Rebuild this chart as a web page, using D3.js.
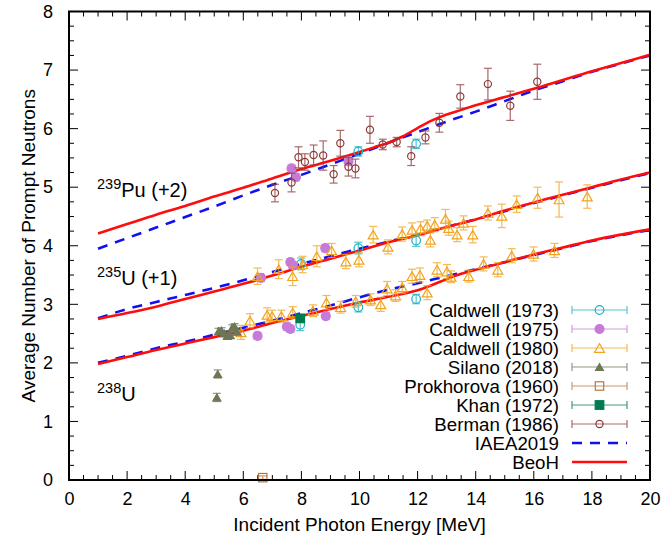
<!DOCTYPE html>
<html>
<head>
<meta charset="utf-8">
<script src="https://cdn.jsdelivr.net/npm/d3@7"></script>
<style>
  body { margin: 0; background: #fff; }
  svg text { font-family: "Liberation Sans", Arial, Helvetica, sans-serif; fill: #000; }
</style>
</head>
<body>
<div class="visHolder"></div>
<script>
// ========================================
// Dimensions
// ========================================
const
  width = 664,
  height = 542,
  plotLeft = 69, plotRight = 650,      // plot frame, px
  plotTop = 11.5, plotBottom = 480,
  tickFont = 18,
  labelFont = 19,
  legendFont = 18.7;

// ========================================
// Data (plotted values, Pu shifted +2, U235 shifted +1)
// ========================================
const xTicks = [0, 2, 4, 6, 8, 10, 12, 14, 16, 18, 20];
const yTicks = [0, 1, 2, 3, 4, 5, 6, 7, 8];

// model curves [E, nu]
const beohPu = [[1,4.21],[2,4.37],[3,4.53],[4,4.68],[5,4.84],[6,4.99],[7,5.15],[8,5.31],[9,5.45],[10,5.60],[10.5,5.68],[11,5.76],[11.5,5.87],[12,6.01],[12.5,6.14],[13,6.24],[13.5,6.32],[14,6.40],[15,6.54],[16,6.68],[17,6.83],[18,6.98],[19,7.12],[20,7.26]];
const iaeaPu = [[1,3.95],[2,4.13],[3,4.31],[4,4.49],[5,4.67],[6,4.86],[7,5.04],[8,5.21],[9,5.39],[10,5.57],[11,5.76],[12,5.94],[13,6.12],[14,6.29],[15,6.47],[16,6.65],[17,6.81],[18,6.97],[19,7.11],[20,7.25]];
const beohU5 = [[1,2.75],[2,2.85],[3,2.96],[4,3.09],[5,3.22],[6,3.35],[7,3.49],[8,3.64],[9,3.78],[10,3.92],[11,4.06],[12,4.18],[13,4.32],[14,4.45],[15,4.60],[16,4.74],[17,4.87],[18,5.00],[19,5.13],[20,5.25]];
const iaeaU5 = [[1,2.76],[2,2.92],[3,3.04],[4,3.16],[5,3.28],[6,3.41],[7,3.55],[8,3.69],[9,3.82],[10,3.95],[11,4.07],[12,4.19],[13,4.32],[14,4.45],[15,4.59],[16,4.73],[17,4.86],[18,4.99],[19,5.12],[20,5.24]];
const beohU8 = [[1,1.98],[2,2.10],[3,2.22],[4,2.33],[5,2.44],[6,2.55],[7,2.68],[8,2.80],[9,2.92],[10,3.03],[11,3.13],[12,3.24],[12.5,3.33],[13,3.43],[13.5,3.52],[14,3.59],[15,3.72],[16,3.85],[17,3.97],[18,4.09],[19,4.19],[20,4.28]];
const iaeaU8 = [[1,2.00],[2,2.12],[3,2.25],[4,2.36],[5,2.48],[6,2.60],[7,2.72],[8,2.85],[9,2.98],[10,3.12],[11,3.25],[12,3.36],[13,3.48],[14,3.60],[15,3.72],[16,3.84],[17,3.96],[18,4.08],[19,4.18],[20,4.27]];

// measurements [E, nu, error]
const caldwell1973 = [[7.99,3.69,0.1],[9.96,3.96,0.1],[11.95,4.09,0.1],[7.96,2.65,0.1],[9.96,2.95,0.08],[11.95,3.09,0.08],[9.96,5.61,0.08],[11.95,5.74,0.08]];
const caldwell1975 = [[7.66,5.32,0.06],[7.81,5.17,0.06],[9.62,5.44,0.06],[6.61,3.45,0.06],[7.62,3.72,0.06],[7.70,3.67,0.06],[8.82,3.96,0.06],[6.49,2.46,0.06],[7.50,2.62,0.06],[7.62,2.58,0.06],[8.84,2.80,0.06]];
const caldwell1980 = [
  [6.49,3.48,0.14],[7.22,3.60,0.16],[7.70,3.48,0.16],[8.04,3.68,0.14],[8.53,3.82,0.18],[9.04,3.92,0.12],[9.53,3.73,0.12],[9.98,3.76,0.12],
  [10.47,4.19,0.14],[10.98,3.98,0.12],[11.47,4.20,0.12],[11.81,4.27,0.12],[12.10,4.29,0.12],[12.33,4.34,0.10],[12.44,4.10,0.12],[12.59,4.36,0.12],
  [12.96,4.46,0.16],[13.07,4.30,0.12],[13.36,4.19,0.12],[13.58,4.39,0.12],[13.90,4.19,0.14],[14.42,4.56,0.12],[14.90,4.51,0.20],[15.41,4.71,0.14],
  [16.13,4.82,0.18],[16.87,4.79,0.30],[17.84,4.84,0.20],
  [5.92,2.52,0.12],[6.23,2.72,0.12],[6.82,2.82,0.12],[6.99,2.80,0.10],[7.31,2.80,0.10],[7.70,2.86,0.10],[8.40,2.89,0.10],[8.86,3.03,0.12],
  [9.35,2.95,0.10],[9.87,3.05,0.10],[10.38,3.08,0.10],[10.73,3.00,0.12],[10.95,3.27,0.12],[11.24,3.15,0.10],[11.47,3.29,0.10],[11.81,3.48,0.12],
  [12.08,3.50,0.12],[12.33,3.20,0.12],[12.67,3.59,0.12],[13.01,3.56,0.12],[13.15,3.47,0.10],[13.76,3.48,0.10],[14.27,3.69,0.12],[14.76,3.59,0.12],
  [15.24,3.83,0.12],[15.99,3.86,0.12],[16.71,3.92,0.12]];
const silano2018 = [[5.12,1.81,0.07],[5.09,1.41,0.07],[5.15,2.54,0.05],[5.25,2.55,0.05],[5.35,2.50,0.05],[5.45,2.46,0.05],[5.55,2.47,0.05],[5.62,2.60,0.05],[5.70,2.62,0.05],[5.78,2.53,0.05]];
const prokhorova1960 = [[6.67,0.04,0.03]];
const khan1972 = [[7.96,2.76,0.05]];
const berman1986 = [
  [7.09,4.90,0.15],[7.66,5.08,0.16],[7.90,5.51,0.18],[8.12,5.43,0.14],[8.42,5.55,0.17],[8.75,5.54,0.25],[9.11,5.22,0.15],[9.34,5.75,0.22],
  [9.62,5.35,0.16],[9.86,5.32,0.16],[10.36,5.98,0.23],[10.80,5.73,0.09],[11.28,5.77,0.08],[11.78,5.53,0.16],[12.27,5.85,0.11],[12.75,6.10,0.16],
  [13.47,6.55,0.20],[14.42,6.76,0.27],[15.19,6.39,0.25],[16.12,6.80,0.30]];

// ========================================
// Series styles
// ========================================
const expSeries = [
  {label: 'Caldwell (1973)',   data: caldwell1973,   color: '#1fb2c4', shape: 'circle',   fill: false, r: 4.3},
  {label: 'Caldwell (1975)',   data: caldwell1975,   color: '#c77ad8', shape: 'circle',   fill: true,  r: 4.5},
  {label: 'Caldwell (1980)',   data: caldwell1980,   color: '#f2a31b', shape: 'triangle', fill: false, r: 4.5},
  {label: 'Silano (2018)',     data: silano2018,     color: '#6f7656', shape: 'triangle', fill: true,  r: 3.6},
  {label: 'Prokhorova (1960)', data: prokhorova1960, color: '#b8773f', shape: 'square',   fill: false, r: 4.2},
  {label: 'Khan (1972)',       data: khan1972,       color: '#017a4f', shape: 'square',   fill: true,  r: 4.3},
  {label: 'Berman (1986)',     data: berman1986,     color: '#8c3a3a', shape: 'circle',   fill: false, r: 3.6},
];
const modelSeries = [
  {label: 'IAEA2019', curves: [iaeaPu, iaeaU5, iaeaU8], color: '#1010f0', dash: '10,8'},
  {label: 'BeoH',     curves: [beohPu, beohU5, beohU8], color: '#ff0d0d', dash: null},
];

// ========================================
// SVG + scales
// ========================================
const svg = d3.select('.visHolder')
  .append('svg')
    .attr('width', width)
    .attr('height', height);

const xScale = d3.scaleLinear().domain([0, 20]).range([plotLeft, plotRight]);
const yScale = d3.scaleLinear().domain([0, 8]).range([plotBottom, plotTop]);

// major + minor ticks inside the frame (all four sides)
const xMinor = d3.range(0, 20.01, 0.5);
const yMinor = d3.range(0, 8.01, 0.25);
const ticks = svg.append('g').attr('stroke', '#000').attr('stroke-width', 1);
xMinor.forEach(v => {
  const len = (v % 2 === 0) ? 9 : 5;
  ticks.append('line').attr('x1', xScale(v)).attr('x2', xScale(v)).attr('y1', plotBottom).attr('y2', plotBottom - len);
  ticks.append('line').attr('x1', xScale(v)).attr('x2', xScale(v)).attr('y1', plotTop).attr('y2', plotTop + len);
});
yMinor.forEach(v => {
  const len = (v % 1 === 0) ? 9 : 5;
  ticks.append('line').attr('y1', yScale(v)).attr('y2', yScale(v)).attr('x1', plotLeft).attr('x2', plotLeft + len);
  ticks.append('line').attr('y1', yScale(v)).attr('y2', yScale(v)).attr('x1', plotRight).attr('x2', plotRight - len);
});

// axes (labels only, frame drawn below)
svg.append('g')
  .attr('transform', 'translate(0,' + plotBottom + ')')
  .call(d3.axisBottom(xScale).tickValues(xTicks).tickSize(0).tickPadding(12).tickFormat(d3.format('d')))
  .call(g => g.select('.domain').remove())
  .selectAll('text')
    .style('font-size', tickFont + 'px')
    .style('font-family', '"Liberation Sans", Arial, sans-serif');

svg.append('g')
  .attr('transform', 'translate(' + plotLeft + ',0)')
  .call(d3.axisLeft(yScale).tickValues(yTicks).tickSize(0).tickPadding(16).tickFormat(d3.format('d')))
  .call(g => g.select('.domain').remove())
  .selectAll('text')
    .style('font-size', tickFont + 'px')
    .style('font-family', '"Liberation Sans", Arial, sans-serif');

// axis titles
svg.append('text')
  .attr('x', (plotLeft + plotRight) / 2)
  .attr('y', 531)
  .attr('text-anchor', 'middle')
  .style('font-size', labelFont + 'px')
  .text('Incident Photon Energy [MeV]');

svg.append('text')
  .attr('transform', 'rotate(-90)')
  .attr('x', -(plotTop + plotBottom) / 2)
  .attr('y', 35)
  .attr('text-anchor', 'middle')
  .style('font-size', labelFont + 'px')
  .text('Average Number of Prompt Neutrons');

// ========================================
// Nucleus labels
// ========================================
const nucLabels = [
  {mass: '239', sym: 'Pu (+2)', y: 197},
  {mass: '235', sym: 'U (+1)',  y: 285},
  {mass: '238', sym: 'U',       y: 401},
];
nucLabels.forEach(d => {
  const t = svg.append('text').attr('x', 97).attr('y', d.y).style('font-size', '20px');
  t.append('tspan').attr('dy', -8).style('font-size', '14.5px').text(d.mass);
  t.append('tspan').attr('dy', 8).text(d.sym);
});

// ========================================
// Model curves
// ========================================
const line = d3.line()
  .x(d => xScale(d[0]))
  .y(d => yScale(d[1]))
  .curve(d3.curveMonotoneX);

const plot = svg.append('g');
modelSeries.forEach(s => {
  s.curves.forEach(c => {
    plot.append('path')
      .attr('d', line(c))
      .attr('fill', 'none')
      .attr('stroke', s.color)
      .attr('stroke-width', 2.6)
      .attr('stroke-dasharray', s.dash);
  });
});

// ========================================
// Markers with error bars
// ========================================
function marker(g, shape, cx, cy, r, color, fill) {
  let el;
  if (shape === 'circle') {
    el = g.append('circle').attr('cx', cx).attr('cy', cy).attr('r', r);
  } else if (shape === 'square') {
    el = g.append('rect').attr('x', cx - r).attr('y', cy - r).attr('width', 2 * r).attr('height', 2 * r);
  } else {
    const h = r * 1.9;
    el = g.append('path').attr('d', d3.line()([[cx - r * 1.1, cy + h / 2], [cx + r * 1.1, cy + h / 2], [cx, cy - h / 2]]) + 'Z');
  }
  el.attr('fill', fill ? color : 'none').attr('stroke', color).attr('stroke-width', 1.2);
}

expSeries.forEach(s => {
  const g = plot.append('g');
  s.data.forEach(d => {
    const cx = xScale(d[0]), y1 = yScale(d[1] - d[2]), y2 = yScale(d[1] + d[2]);
    const eb = g.append('g').attr('stroke', s.color).attr('stroke-width', 1.2).attr('opacity', 0.75);
    eb.append('line').attr('x1', cx).attr('x2', cx).attr('y1', y1).attr('y2', y2);
    eb.append('line').attr('x1', cx - 4).attr('x2', cx + 4).attr('y1', y1).attr('y2', y1);
    eb.append('line').attr('x1', cx - 4).attr('x2', cx + 4).attr('y1', y2).attr('y2', y2);
  });
  s.data.forEach(d => marker(g, s.shape, xScale(d[0]), yScale(d[1]), s.r, s.color, s.fill));
});

// ========================================
// Legend
// ========================================
const legend = svg.append('g');
const rowY = i => 310 + i * 19;
const lx1 = 572, lx2 = 627;

expSeries.forEach((s, i) => {
  const y = rowY(i);
  legend.append('text').attr('x', 559).attr('y', y).attr('dy', '0.35em')
    .attr('text-anchor', 'end').style('font-size', legendFont + 'px').text(s.label);
  const eb = legend.append('g').attr('stroke', s.color).attr('stroke-width', 1.2).attr('opacity', 0.75);
  eb.append('line').attr('x1', lx1).attr('x2', lx2).attr('y1', y).attr('y2', y);
  eb.append('line').attr('x1', lx1).attr('x2', lx1).attr('y1', y - 4).attr('y2', y + 4);
  eb.append('line').attr('x1', lx2).attr('x2', lx2).attr('y1', y - 4).attr('y2', y + 4);
  marker(legend, s.shape, (lx1 + lx2) / 2, y, s.r, s.color, s.fill);
});
modelSeries.forEach((s, i) => {
  const y = rowY(expSeries.length + i);
  legend.append('text').attr('x', 559).attr('y', y).attr('dy', '0.35em')
    .attr('text-anchor', 'end').style('font-size', legendFont + 'px').text(s.label);
  legend.append('line').attr('x1', lx1).attr('x2', lx2).attr('y1', y).attr('y2', y)
    .attr('stroke', s.color).attr('stroke-width', 2.6).attr('stroke-dasharray', s.dash);
});

// ========================================
// Frame
// ========================================
svg.append('rect')
  .attr('x', plotLeft).attr('y', plotTop)
  .attr('width', plotRight - plotLeft).attr('height', plotBottom - plotTop)
  .attr('fill', 'none').attr('stroke', '#000').attr('stroke-width', 2);
</script>
</body>
</html>
